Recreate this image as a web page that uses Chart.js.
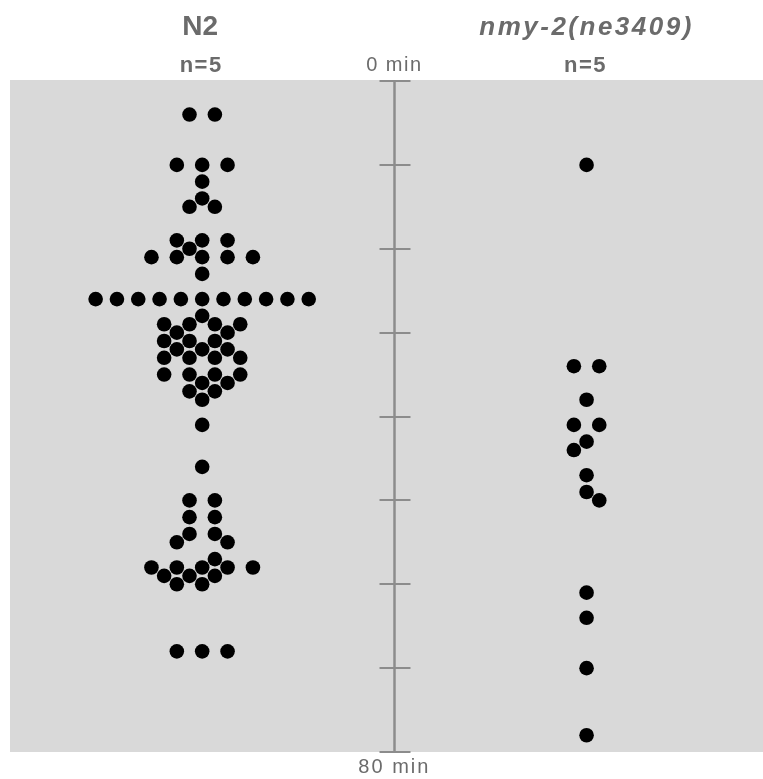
<!DOCTYPE html>
<html>
<head>
<meta charset="utf-8">
<script src="https://cdn.jsdelivr.net/npm/chart.js@4/dist/chart.umd.min.js"></script>
<style>
html,body{margin:0;padding:0;background:#fff;}
#wrap{width:763px;height:779px;}
</style>
</head>
<body>
<div id="wrap"><canvas id="c" width="763" height="779"></canvas></div>
<script>
// ---- data ----
const groupNames = ["N2", "nmy-2(ne3409)"];
const groupCounts = ["n=5", "n=5"];
const groupPositions = [1, 2];
const axisPosition = 1.5;

// N2: event times (min) and beeswarm column offsets (in dot steps)
const n2Times = [
  4,4, 10,10,10, 12, 14, 15,15, 19,19,19, 20, 21,21,21,21,21, 23,
  26,26,26,26,26,26,26,26,26,26,26, 28, 29,29,29,29, 30,30, 31,31,31,
  32,32,32, 33,33,33,33, 35,35,35,35, 36,36, 37,37, 38, 41, 46,
  50,50, 52,52, 54,54, 55,55, 57, 58,58,58,58,58, 59,59,59, 60,60, 68,68,68
];
const n2Offsets = [
  -1,1, -2,0,2, 0, 0, -1,1, -2,0,2, -1, -4,-2,0,2,4, 0,
  -8.4,-6.72,-5.04,-3.36,-1.68,0,1.68,3.36,5.04,6.72,8.4, 0, -3,-1,1,3, -2,2, -3,-1,1,
  -2,0,2, -3,-1,1,3, -3,-1,1,3, 0,2, -1,1, 0, 0, 0,
  -1,1, -1,1, -1,1, -2,2, 1, -4,-2,0,2,4, -3,-1,1, -2,0, -2,0,2
];

// nmy-2(ne3409)
const nmyTimes = [10, 34,34, 38, 41,41, 43, 44, 47, 49, 50, 61, 64, 70, 78];
const nmyOffsets = [0, -1,1, 0, -1,1, 0, -1, 0, 0, 1, 0, 0, 0, 0];

const tickValues = [0, 10, 20, 30, 40, 50, 60, 70, 80];
const axisEndLabels = ["0 min", "80 min"];

// ---- layout / style constants ----
const swarmStep = 0.033;     // x-units per beeswarm column step
const bgColor = "#d9d9d9";
const axisColor = "#8c8c8c";
const textColor = "#6b6b6b";

function buildPoints(times, offsets, center) {
  return times.map((t, i) => ({ x: center + offsets[i] * swarmStep, y: t }));
}

const decorPlugin = {
  id: "decor",
  beforeDatasetsDraw(chart) {
    const ctx = chart.ctx;
    const xs = chart.scales.x, ys = chart.scales.y;
    const a = chart.chartArea;
    ctx.save();
    // background panel
    ctx.fillStyle = bgColor;
    ctx.fillRect(a.left, a.top - 1, a.right - a.left, a.bottom - a.top + 1);
    // center time axis
    const ax = Math.round(xs.getPixelForValue(axisPosition)) + 0.5;
    ctx.strokeStyle = axisColor;
    ctx.lineWidth = 2.5;
    ctx.beginPath();
    ctx.moveTo(ax, ys.getPixelForValue(tickValues[0]));
    ctx.lineTo(ax, ys.getPixelForValue(tickValues[tickValues.length - 1]));
    ctx.stroke();
    ctx.lineWidth = 2;
    tickValues.forEach(v => {
      const py = Math.round(ys.getPixelForValue(v));
      ctx.beginPath();
      ctx.moveTo(ax - 15, py);
      ctx.lineTo(ax + 16, py);
      ctx.stroke();
    });
    ctx.restore();
  },
  afterDraw(chart) {
    const ctx = chart.ctx;
    const xs = chart.scales.x, ys = chart.scales.y;
    ctx.save();
    ctx.fillStyle = textColor;
    ctx.textAlign = "center";
    ctx.textBaseline = "alphabetic";
    // group titles
    groupNames.forEach((name, i) => {
      const px = xs.getPixelForValue(groupPositions[i]) - 2;
      if (i === 0) {
        ctx.font = "bold 28px 'Liberation Sans', Arial, sans-serif";
        ctx.letterSpacing = "0px";
        ctx.fillText(name, px, 35);
      } else {
        ctx.font = "italic bold 26px 'Liberation Sans', Arial, sans-serif";
        ctx.letterSpacing = "2.5px";
        ctx.fillText(name, px + 2, 35);
      }
      ctx.font = "bold 22px 'Liberation Sans', Arial, sans-serif";
      ctx.letterSpacing = "1.5px";
      ctx.fillText(groupCounts[i], px + 1, 72);
    });
    // axis end labels
    const ax = xs.getPixelForValue(axisPosition);
    ctx.font = "20px 'Liberation Sans', Arial, sans-serif";
    ctx.letterSpacing = "1.5px";
    ctx.fillText(axisEndLabels[0], ax, ys.getPixelForValue(tickValues[0]) - 10);
    ctx.font = "20px 'Liberation Sans', Arial, sans-serif";
    ctx.letterSpacing = "2px";
    ctx.fillText(axisEndLabels[1], ax, ys.getPixelForValue(tickValues[tickValues.length - 1]) + 21);
    ctx.restore();
  }
};

new Chart(document.getElementById("c"), {
  type: "scatter",
  data: {
    datasets: [
      { label: groupNames[0], data: buildPoints(n2Times, n2Offsets, groupPositions[0]) },
      { label: groupNames[1], data: buildPoints(nmyTimes, nmyOffsets, groupPositions[1]) }
    ]
  },
  options: {
    responsive: false,
    animation: false,
    devicePixelRatio: 1,
    layout: { autoPadding: false, padding: { left: 10, right: 0, top: 81, bottom: 27 } },
    elements: {
      point: { radius: 7.3, backgroundColor: "#000", borderWidth: 0, hoverRadius: 7.3 }
    },
    clip: false,
    plugins: { legend: { display: false }, tooltip: { enabled: false } },
    scales: {
      x: { type: "linear", display: false, min: 0.5, max: 2.459 },
      y: { type: "linear", display: false, min: 0, max: 80, reverse: true }
    }
  },
  plugins: [decorPlugin]
});
</script>
</body>
</html>
